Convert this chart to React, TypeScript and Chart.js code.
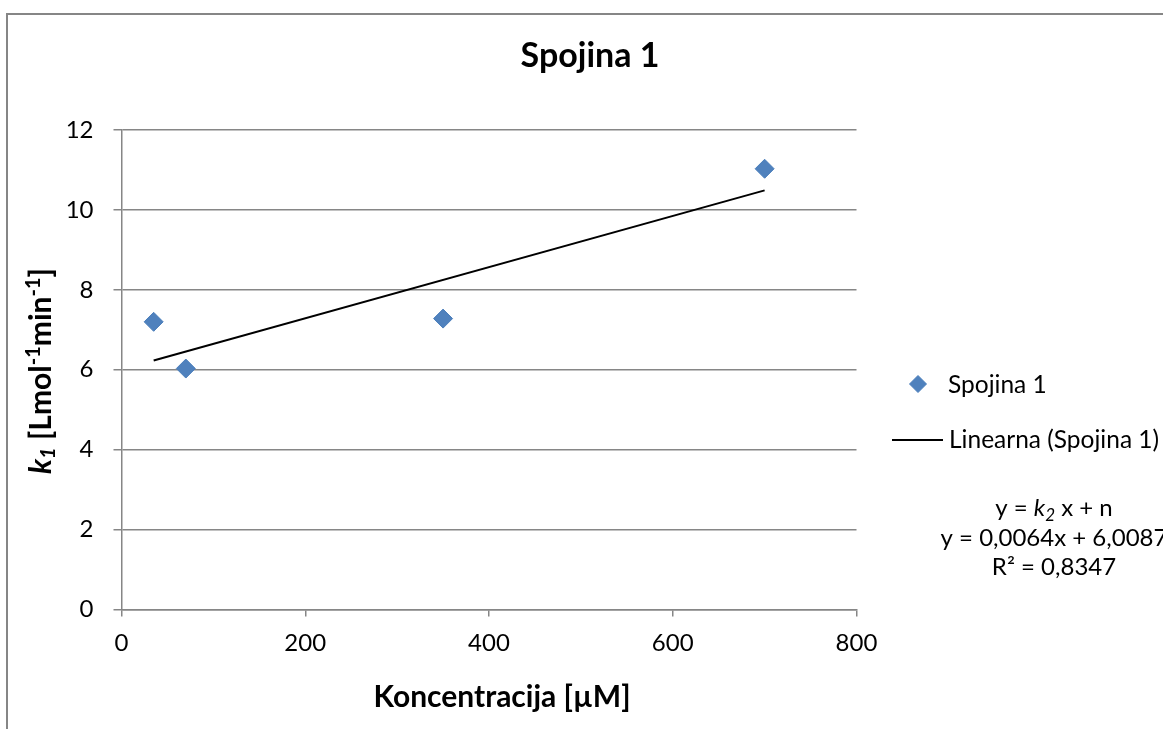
import React, { useEffect, useRef } from "react";
import { Chart, registerables } from "chart.js";

Chart.register(...registerables);

// Measured rate constants k1 for each concentration
const concentrations = [35, 70, 350, 700];
const k1Values = [7.2, 6.03, 7.28, 11.03];

// Linear trendline y = k2 x + n and its fit quality
const trendSlope = 0.0064;
const trendIntercept = 6.0087;
const rSquared = 0.8347;

// Axis ranges and tick steps
const xRange = [0, 800];
const xStep = 200;
const yRange = [0, 12];
const yStep = 2;

const seriesName = "Spojina 1";
const trendName = "Linearna (Spojina 1)";
const chartTitle = "Spojina 1";
const xTitle = "Koncentracija [µM]";

const FONT = "Lato, 'Open Sans', sans-serif";
const GRID = "#868686";
const MARKER = "#4F81BD";
const MARKER_EDGE = "#4A7EBB";

type Run = { text: string; bold?: boolean; italic?: boolean; size: number; shift?: number };

const runFont = (r: Run) => `${r.italic ? "italic " : ""}${r.bold ? "bold " : ""}${r.size}px ${FONT}`;

function runsWidth(ctx: CanvasRenderingContext2D, runs: Run[]) {
  let w = 0;
  for (const r of runs) {
    ctx.font = runFont(r);
    w += ctx.measureText(r.text).width;
  }
  return w;
}

function drawRuns(ctx: CanvasRenderingContext2D, runs: Run[], x: number, y: number, align: "left" | "center") {
  let cx = align === "center" ? x - runsWidth(ctx, runs) / 2 : x;
  ctx.textAlign = "left";
  ctx.textBaseline = "alphabetic";
  for (const r of runs) {
    ctx.font = runFont(r);
    ctx.fillText(r.text, cx, y + (r.shift || 0));
    cx += ctx.measureText(r.text).width;
  }
}

const comma = (v: number, digits: number) => v.toFixed(digits).replace(".", ",");

// Title, axis titles, legend and trendline equation drawn on the canvas
const decorations = {
  id: "decorations",
  afterDraw(chart: Chart) {
    const ctx = chart.ctx;
    ctx.save();

    // outer chart frame
    ctx.strokeStyle = GRID;
    ctx.lineWidth = 2;
    ctx.strokeRect(7, 14, 1200, 800);

    ctx.fillStyle = "#000";

    // chart title
    drawRuns(ctx, [{ text: chartTitle, bold: true, size: 34 }], 590, 67, "center");

    // x axis title
    drawRuns(ctx, [{ text: xTitle, bold: true, size: 30 }], 502, 707, "center");

    // y axis title: k1 [Lmol-1min-1]
    ctx.save();
    ctx.translate(51, 371);
    ctx.rotate(-Math.PI / 2);
    drawRuns(
      ctx,
      [
        { text: "k", bold: true, italic: true, size: 30 },
        { text: "1", bold: true, italic: true, size: 20, shift: 4 },
        { text: " [Lmol", bold: true, size: 30 },
        { text: "-1", bold: true, size: 20, shift: -11 },
        { text: "min", bold: true, size: 30 },
        { text: "-1", bold: true, size: 20, shift: -11 },
        { text: "]", bold: true, size: 30 },
      ],
      0,
      0,
      "center"
    );
    ctx.restore();

    // legend: marker entry
    ctx.fillStyle = MARKER;
    ctx.strokeStyle = MARKER_EDGE;
    ctx.lineWidth = 1;
    ctx.beginPath();
    ctx.moveTo(918, 375.5);
    ctx.lineTo(926.5, 384);
    ctx.lineTo(918, 392.5);
    ctx.lineTo(909.5, 384);
    ctx.closePath();
    ctx.fill();
    ctx.stroke();
    ctx.fillStyle = "#000";
    drawRuns(ctx, [{ text: seriesName, size: 24.5 }], 948, 393, "left");

    // legend: trendline entry
    ctx.strokeStyle = "#000";
    ctx.lineWidth = 2;
    ctx.beginPath();
    ctx.moveTo(892, 440);
    ctx.lineTo(943, 440);
    ctx.stroke();
    drawRuns(ctx, [{ text: trendName, size: 24.5 }], 949, 448, "left");

    // trendline equation
    const cx = 1054;
    drawRuns(
      ctx,
      [
        { text: "y = ", size: 24 },
        { text: "k", italic: true, size: 24 },
        { text: "2", italic: true, size: 17, shift: 5 },
        { text: " x + n", size: 24 },
      ],
      cx,
      516,
      "center"
    );
    drawRuns(
      ctx,
      [{ text: `y = ${comma(trendSlope, 4)}x + ${comma(trendIntercept, 4)}`, size: 24 }],
      cx,
      546,
      "center"
    );
    drawRuns(ctx, [{ text: `R² = ${comma(rSquared, 4)}`, size: 24 }], cx, 575, "center");

    ctx.restore();
  },
};

export default function App() {
  const canvasRef = useRef<HTMLCanvasElement | null>(null);

  useEffect(() => {
    if (!canvasRef.current) return;
    const points = concentrations.map((x, i) => ({ x, y: k1Values[i] }));
    const xFirst = concentrations[0];
    const xLast = concentrations[concentrations.length - 1];
    const trend = [
      { x: xFirst, y: trendSlope * xFirst + trendIntercept },
      { x: xLast, y: trendSlope * xLast + trendIntercept },
    ];

    const chart = new Chart(canvasRef.current, {
      type: "scatter",
      data: {
        datasets: [
          {
            label: seriesName,
            data: points,
            pointStyle: "rectRot",
            pointRadius: 9.5,
            backgroundColor: MARKER,
            borderColor: MARKER_EDGE,
            borderWidth: 1,
            showLine: false,
          },
          {
            label: trendName,
            type: "line",
            data: trend,
            borderColor: "#000",
            borderWidth: 2,
            pointRadius: 0,
            fill: false,
            tension: 0,
          },
        ],
      },
      options: {
        responsive: false,
        animation: false,
        devicePixelRatio: 1,
        layout: { padding: { top: 130, right: 306.5, bottom: 0, left: 0 } },
        plugins: {
          legend: { display: false },
          title: { display: false },
          tooltip: { enabled: false },
        },
        scales: {
          x: {
            type: "linear",
            min: xRange[0],
            max: xRange[1],
            afterFit: (s: any) => {
              s.height = 119.5;
            },
            ticks: {
              stepSize: xStep,
              color: "#000",
              padding: 12,
              font: { family: FONT, size: 24 },
              maxRotation: 0,
            },
            grid: {
              drawOnChartArea: false,
              drawTicks: true,
              tickLength: 7,
              color: GRID,
              lineWidth: 1.5,
            },
            border: { display: true, color: GRID, width: 1.5 },
          },
          y: {
            type: "linear",
            min: yRange[0],
            max: yRange[1],
            afterFit: (s: any) => {
              s.width = 121.5;
            },
            ticks: {
              stepSize: yStep,
              color: "#000",
              padding: 20,
              font: { family: FONT, size: 24 },
            },
            grid: {
              drawOnChartArea: true,
              drawTicks: true,
              tickLength: 8,
              color: GRID,
              lineWidth: 1.5,
            },
            border: { display: true, color: GRID, width: 1.5 },
          },
        },
      },
      plugins: [decorations],
    });

    return () => chart.destroy();
  }, []);

  return (
    <div style={{ position: "absolute", left: 0, top: 0, width: 1163, height: 729, background: "#fff" }}>
      <canvas ref={canvasRef} width={1163} height={729} />
    </div>
  );
}
